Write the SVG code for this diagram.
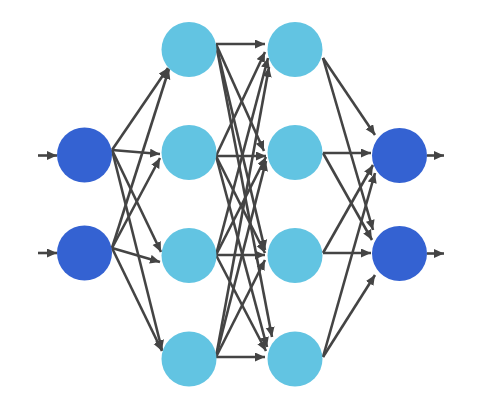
<svg xmlns="http://www.w3.org/2000/svg" width="492" height="418" viewBox="0 0 492 418">
<defs>
<marker id="ah" markerUnits="userSpaceOnUse" markerWidth="11" markerHeight="10" refX="10" refY="4.5" orient="auto">
<path d="M0,0 L10,4.5 L0,9 Z" fill="#444444"/>
</marker>
</defs>
<style>
.e{stroke:#444444;stroke-width:2.6;fill:none;marker-end:url(#ah)}
.in{fill:#3462D2}
.hid{fill:#62C4E2}
</style>
<rect width="492" height="418" fill="#ffffff"/>
<g id="connectors">
<line class="e" x1="38" y1="155.5" x2="57" y2="155.5"/>
<line class="e" x1="38" y1="253" x2="57" y2="253"/>
<line class="e" x1="112" y1="150" x2="168" y2="68"/>
<line class="e" x1="112" y1="150" x2="160" y2="154"/>
<line class="e" x1="112" y1="150" x2="161" y2="252"/>
<line class="e" x1="112" y1="150" x2="162" y2="350"/>
<line class="e" x1="112" y1="248" x2="169" y2="69"/>
<line class="e" x1="112" y1="248" x2="160" y2="158"/>
<line class="e" x1="112" y1="248" x2="160" y2="262"/>
<line class="e" x1="112" y1="248" x2="162" y2="351"/>
<line class="e" x1="216" y1="44" x2="265" y2="44"/>
<line class="e" x1="216" y1="44" x2="264" y2="151"/>
<line class="e" x1="216" y1="44" x2="265" y2="250"/>
<line class="e" x1="216" y1="44" x2="272" y2="337"/>
<line class="e" x1="216" y1="156" x2="265" y2="52"/>
<line class="e" x1="216" y1="156" x2="266" y2="156"/>
<line class="e" x1="216" y1="156" x2="265" y2="253"/>
<line class="e" x1="216" y1="156" x2="267" y2="347"/>
<line class="e" x1="216" y1="255" x2="268" y2="58"/>
<line class="e" x1="216" y1="255" x2="266" y2="157"/>
<line class="e" x1="216" y1="255" x2="265" y2="255"/>
<line class="e" x1="216" y1="255" x2="266" y2="351"/>
<line class="e" x1="216" y1="357" x2="269" y2="67"/>
<line class="e" x1="216" y1="357" x2="266" y2="161"/>
<line class="e" x1="216" y1="357" x2="265" y2="260"/>
<line class="e" x1="216" y1="357" x2="265" y2="357"/>
<line class="e" x1="323" y1="58" x2="375" y2="135"/>
<line class="e" x1="323" y1="58" x2="373" y2="230"/>
<line class="e" x1="323" y1="153" x2="371" y2="153"/>
<line class="e" x1="323" y1="153" x2="372" y2="240"/>
<line class="e" x1="323" y1="253" x2="373" y2="165"/>
<line class="e" x1="323" y1="253" x2="371" y2="253"/>
<line class="e" x1="323" y1="357" x2="375" y2="173"/>
<line class="e" x1="323" y1="357" x2="375" y2="275"/>
<line class="e" x1="427" y1="155.5" x2="444" y2="155.5"/>
<line class="e" x1="427" y1="253.5" x2="444" y2="253.5"/>
</g>
<g id="in1"><circle class="in" cx="84.5" cy="155" r="27.5"/></g>
<g id="in2"><circle class="in" cx="84.5" cy="253" r="27.5"/></g>
<g id="h1a"><circle class="hid" cx="189" cy="49.5" r="27.5"/></g>
<g id="h1b"><circle class="hid" cx="189" cy="152.5" r="27.5"/></g>
<g id="h1c"><circle class="hid" cx="189" cy="255.5" r="27.5"/></g>
<g id="h1d"><circle class="hid" cx="189" cy="359" r="27.5"/></g>
<g id="h2a"><circle class="hid" cx="295" cy="49.5" r="27.5"/></g>
<g id="h2b"><circle class="hid" cx="295" cy="152.5" r="27.5"/></g>
<g id="h2c"><circle class="hid" cx="295" cy="255.5" r="27.5"/></g>
<g id="h2d"><circle class="hid" cx="295" cy="359" r="27.5"/></g>
<g id="out1"><circle class="in" cx="399.5" cy="155.5" r="27.5"/></g>
<g id="out2"><circle class="in" cx="399.5" cy="253.5" r="27.5"/></g>
</svg>
